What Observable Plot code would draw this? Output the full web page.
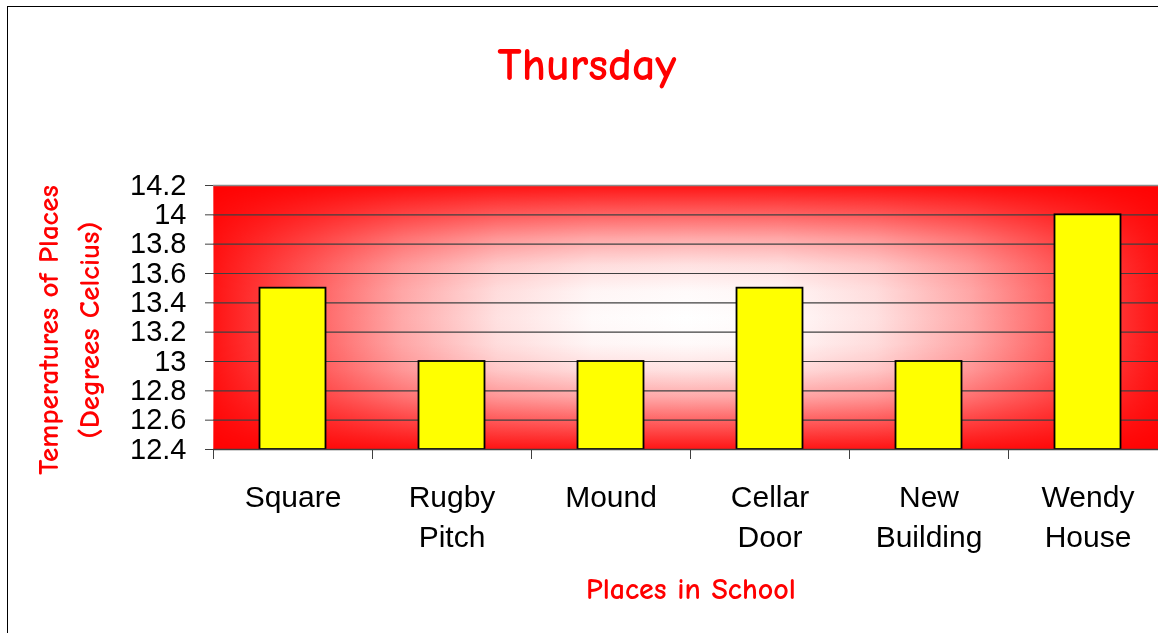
<!DOCTYPE html>
<html>
<head>
<meta charset="utf-8">
<script src="https://cdn.jsdelivr.net/npm/d3@7"></script>
<script src="https://cdn.jsdelivr.net/npm/@observablehq/plot@0.6"></script>
<style>
  html, body { margin: 0; padding: 0; background: #fff; overflow: hidden; }
  #wrap { position: relative; width: 1158px; height: 633px; overflow: hidden; }
  #border { position: absolute; left: 7px; top: 6px; width: 1200px; height: 700px; border: 1px solid #000; pointer-events: none; }
  #chart { position: absolute; left: 0; top: 0; }
  .comic { font-family: "Comic Sans MS", "Comic Neue", "Lato", sans-serif; font-weight: bold; color: #ff0000; position: absolute; white-space: nowrap; }
  #title { left: 0; width: 1174px; text-align: center; top: 36px; font-size: 46px; line-height: 60px; }
  #ytitle { left: 69px; top: 330px; transform: translate(-50%, -50%) rotate(-90deg); text-align: center; font-size: 29px; line-height: 41px; }
  #xtitle { left: 0; width: 1382px; text-align: center; top: 570px; font-size: 30px; line-height: 40px; }
</style>
</head>
<body>
<div id="wrap">
  <div id="chart"></div>
  <div id="border"></div>
  <div id="title" class="comic"></div>
  <div id="ytitle" class="comic"></div>
  <div id="xtitle" class="comic"></div>
</div>
<script>
const chartTitle = "Thursday";
const yTitle = ["Temperatures of Places", "(Degrees Celcius)"];
const xTitle = "Places in School";
const categories = ["Square", "Rugby Pitch", "Mound", "Cellar Door", "New Building", "Wendy House"];
const temperatures = [13.5, 13.0, 13.0, 13.5, 13.0, 14.0];
const yTicks = [12.4, 12.6, 12.8, 13, 13.2, 13.4, 13.6, 13.8, 14, 14.2];

const data = categories.map((c, i) => ({place: c, temp: temperatures[i], i}));
const half = 0.2075;
const axisFont = "'Liberation Sans', Arial, Helvetica, sans-serif";

const svg = Plot.plot({
  width: 1158,
  height: 633,
  marginLeft: 213,
  marginRight: 0,
  marginTop: 185,
  marginBottom: 184,
  style: {background: "transparent", fontFamily: axisFont, color: "#000"},
  x: {domain: [0, categories.length], range: [213, 1167]},
  y: {domain: [yTicks[0], yTicks[yTicks.length - 1]]},
  marks: [
    Plot.frame({fill: "url(#gH)"}),
    Plot.frame({fill: "url(#gV)", mixBlendMode: "multiply"}),
    Plot.ruleY(yTicks.slice(1, -1), {stroke: "#404040", strokeWidth: 1.2}),
    Plot.ruleY([yTicks[yTicks.length - 1]], {stroke: "#8a8a8a", strokeWidth: 1.5}),
    Plot.rectY(data, {
      x1: d => d.i + 0.5 - half,
      x2: d => d.i + 0.5 + half,
      y1: yTicks[0],
      y2: "temp",
      fill: "#ffff00",
      stroke: "#000",
      strokeWidth: 1.8
    }),
    Plot.ruleY([yTicks[0]], {stroke: "#404040", strokeWidth: 1.5}),
    Plot.axisY({ticks: yTicks, tickSize: 8, tickPadding: 19, fontSize: 29, tickFormat: d => String(d), stroke: "#404040", fill: "#000", label: null}),
    Plot.axisX({ticks: d3.range(0, categories.length), tickSize: 10, tickFormat: () => "", stroke: "#404040", label: null}),
    Plot.text(data, {
      x: d => d.i + 0.5,
      y: yTicks[0],
      text: d => d.place.replace(" ", "\n"),
      dy: 29,
      lineAnchor: "top",
      lineHeight: 1.33,
      fontSize: 30,
      fill: "#000"
    })
  ]
});

const s = d3.select(svg);
const defs = s.insert("defs", ":first-child");
// gradient profile from edge (0) to centre (0.5): green/blue channel of rgb(255,g,g)
const profile = [[0, 20], [0.11, 100], [0.2, 170], [0.3, 225], [0.4, 250], [0.5, 255]];
function addGrad(id, vertical) {
  const g = defs.append("linearGradient").attr("id", id)
    .attr("x1", 0).attr("y1", 0).attr("x2", vertical ? 0 : 1).attr("y2", vertical ? 1 : 0);
  const stops = profile.concat(profile.slice(0, -1).reverse().map(([t, v]) => [1 - t, v]));
  for (const [t, v] of stops) g.append("stop").attr("offset", t).attr("stop-color", `rgb(255,${v},${v})`);
}
addGrad("gH", false);
addGrad("gV", true);

document.getElementById("chart").appendChild(svg);
document.getElementById("title").textContent = chartTitle;
document.getElementById("ytitle").innerHTML = yTitle.join("<br>");
document.getElementById("xtitle").textContent = xTitle;
</script>
</body>
</html>
